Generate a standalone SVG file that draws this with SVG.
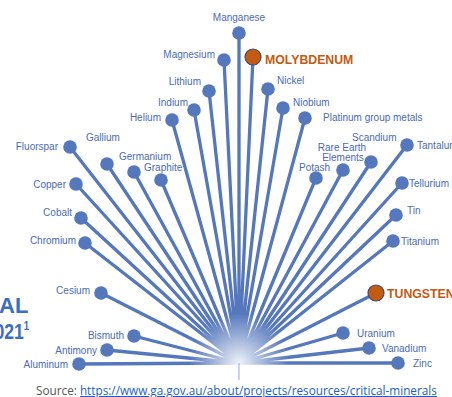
<svg xmlns="http://www.w3.org/2000/svg" width="452" height="397" viewBox="0 0 452 397">
<defs>
<style>
.c{stroke:#5577bb;stroke-width:3.3;stroke-linecap:round;fill:none}
.d{fill:#5577bb}
.o{fill:#c55a11;stroke:#3d4a78;stroke-width:1.2}
.t{font-family:"Liberation Sans",Arial,sans-serif;font-size:10px;fill:#4a6cb3}
.e{text-anchor:end}
.m{text-anchor:middle}
.h{font-family:"Liberation Sans",Arial,sans-serif;font-size:12.3px;font-weight:bold;fill:#c55a11}
.big{font-family:"Liberation Sans",Arial,sans-serif;font-size:22px;font-weight:bold;fill:#3c6cc4}
.src{font-family:"Open Sans","Liberation Sans",sans-serif;font-size:11.75px;fill:#555}
.lnk{fill:#1a5fc8;text-decoration:underline}
</style>
<radialGradient id="fade" cx="239" cy="363" r="50" gradientUnits="userSpaceOnUse">
<stop offset="0" stop-color="#fff" stop-opacity="0.9"/>
<stop offset="1" stop-color="#fff" stop-opacity="0"/>
</radialGradient>
</defs>
<rect width="452" height="397" fill="#fff"/>
<g id="connectors">
<path class="c" d="M239 363L239 33M239 363L253 57M239 363L224 60M239 363L209 91M239 363L194 110M239 363L172 120M239 363L70 147M239 363L107 164M239 363L134 172M239 363L161 180M239 363L76 184M239 363L81 218M239 363L85 243M239 363L101 293M239 363L134 336M239 363L107 350M239 363L79 364M239 363L268 89M239 363L283 108M239 363L305 118M239 363L316 178M239 363L343 170M239 363L371 162M239 363L407 145M239 363L402 183M239 363L396 215M239 363L393 241M239 363L376 293M239 363L343 333M239 363L369 348M239 363L398 363"/>
<circle cx="239" cy="363" r="50" fill="url(#fade)"/>
<line x1="239" y1="363" x2="239" y2="380" stroke="#aab8dd" stroke-width="1.2"/>
</g>
<g id="manganese"><circle class="d" cx="239" cy="33" r="6.8"/><text class="t m" x="239" y="21">Manganese</text></g>
<g id="molybdenum"><circle class="o" cx="253" cy="57" r="8"/><text class="h" x="265" y="64">MOLYBDENUM</text></g>
<g id="magnesium"><circle class="d" cx="224" cy="60" r="6.8"/><text class="t e" x="215" y="58">Magnesium</text></g>
<g id="lithium"><circle class="d" cx="209" cy="91" r="6.8"/><text class="t e" x="201" y="85">Lithium</text></g>
<g id="indium"><circle class="d" cx="194" cy="110" r="6.8"/><text class="t e" x="188" y="106">Indium</text></g>
<g id="helium"><circle class="d" cx="172" cy="120" r="6.8"/><text class="t e" x="161" y="121">Helium</text></g>
<g id="fluorspar"><circle class="d" cx="70" cy="147" r="6.8"/><text class="t e" x="58" y="150">Fluorspar</text></g>
<g id="gallium"><circle class="d" cx="107" cy="164" r="6.8"/><text class="t" x="86" y="141">Gallium</text></g>
<g id="germanium"><circle class="d" cx="134" cy="172" r="6.8"/><text class="t" x="119" y="160">Germanium</text></g>
<g id="graphite"><circle class="d" cx="161" cy="180" r="6.8"/><text class="t" x="144" y="171">Graphite</text></g>
<g id="copper"><circle class="d" cx="76" cy="184" r="6.8"/><text class="t e" x="66" y="188">Copper</text></g>
<g id="cobalt"><circle class="d" cx="81" cy="218" r="6.8"/><text class="t e" x="72" y="216">Cobalt</text></g>
<g id="chromium"><circle class="d" cx="85" cy="243" r="6.8"/><text class="t e" x="76" y="244">Chromium</text></g>
<g id="cesium"><circle class="d" cx="101" cy="293" r="6.8"/><text class="t e" x="90" y="294">Cesium</text></g>
<g id="bismuth"><circle class="d" cx="134" cy="336" r="6.8"/><text class="t e" x="124" y="339">Bismuth</text></g>
<g id="antimony"><circle class="d" cx="107" cy="350" r="6.8"/><text class="t e" x="97" y="354">Antimony</text></g>
<g id="aluminum"><circle class="d" cx="79" cy="364" r="6.8"/><text class="t e" x="68" y="368">Aluminum</text></g>
<g id="nickel"><circle class="d" cx="268" cy="89" r="6.8"/><text class="t" x="277" y="84">Nickel</text></g>
<g id="niobium"><circle class="d" cx="283" cy="108" r="6.8"/><text class="t" x="293" y="106">Niobium</text></g>
<g id="platinum"><circle class="d" cx="305" cy="118" r="6.8"/><text class="t" x="323" y="121">Platinum group metals</text></g>
<g id="potash"><circle class="d" cx="316" cy="178" r="6.8"/><text class="t" x="299" y="171">Potash</text></g>
<g id="ree"><circle class="d" cx="343" cy="170" r="6.8"/><text class="t m" x="342" y="151">Rare Earth</text><text class="t m" x="343" y="161">Elements</text></g>
<g id="scandium"><circle class="d" cx="371" cy="162" r="6.8"/><text class="t" x="352" y="141">Scandium</text></g>
<g id="tantalum"><circle class="d" cx="407" cy="145" r="6.8"/><text class="t" x="417" y="149">Tantalum</text></g>
<g id="tellurium"><circle class="d" cx="402" cy="183" r="6.8"/><text class="t" x="409" y="187">Tellurium</text></g>
<g id="tin"><circle class="d" cx="396" cy="215" r="6.8"/><text class="t" x="407" y="214">Tin</text></g>
<g id="titanium"><circle class="d" cx="393" cy="241" r="6.8"/><text class="t" x="401" y="245">Titanium</text></g>
<g id="tungsten"><circle class="o" cx="376" cy="293" r="8"/><text class="h" x="387" y="298">TUNGSTEN</text></g>
<g id="uranium"><circle class="d" cx="343" cy="333" r="6.8"/><text class="t" x="357" y="337">Uranium</text></g>
<g id="vanadium"><circle class="d" cx="369" cy="348" r="6.8"/><text class="t" x="382" y="352">Vanadium</text></g>
<g id="zinc"><circle class="d" cx="398" cy="363" r="6.8"/><text class="t" x="413" y="367">Zinc</text></g>
<g id="title"><text class="big" x="-1" y="313">AL</text><text class="big" transform="scale(0.8,1)" x="-7" y="339">021<tspan font-size="12" dy="-9">1</tspan></text></g>
<g id="source"><text class="src" x="36" y="395">Source: <tspan class="lnk">https://www.ga.gov.au/about/projects/resources/critical-minerals</tspan></text></g>
</svg>
